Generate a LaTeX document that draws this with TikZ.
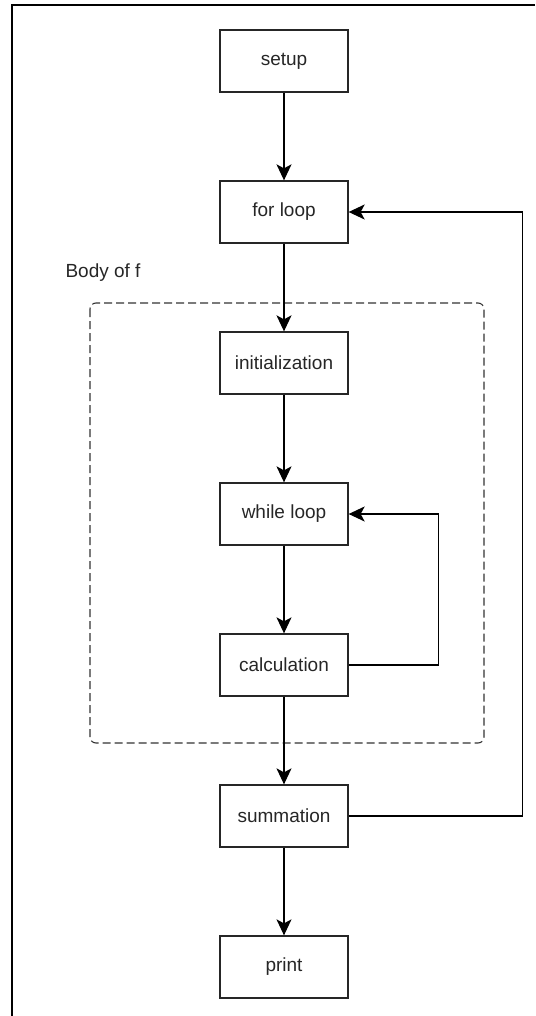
\documentclass[tikz,border=0pt]{standalone}
\usepackage{fontspec}
\setmainfont{Liberation Sans}
\usepackage{tikz}
\usetikzlibrary{positioning}
\usetikzlibrary{arrows.meta}

\begin{document}
\begin{tikzpicture}
            [x=1pt, y=-1pt,
            stepbox/.style={draw=black!85, line width=1.3pt, minimum width=128pt, minimum height=62pt,
                font=\fontsize{19}{22}\selectfont, text=black!85},
            link/.style={line width=1.4pt, draw=black, -{Stealth[length=16pt, width=15pt, inset=4pt]}},
            body/.style={draw=black!80, line width=1.1pt, dash pattern=on 8pt off 4pt, rounded corners=6pt},
            node distance=87.7pt,
            ]
            \useasboundingbox (0,0) rectangle (535,1016);
            % frame
            \draw[line width=1.5pt] (12,1016) -- (12,5) -- (535,5);

            % main chain
            \node[stepbox] (setup) at (284,61) {setup};
            \node[stepbox, below=of setup] (forloop) {for loop};
            \node[stepbox, below=of forloop] (init) {initialization};
            \node[stepbox, below=of init] (whileloop) {while loop};
            \node[stepbox, below=of whileloop] (calc) {calculation};
            \node[stepbox, below=of calc] (summ) {summation};
            \node[stepbox, below=of summ] (print) {print};

            % body of f
            \draw[body] (90,303) rectangle (484,743);
            \node[font=\fontsize{19}{22}\selectfont, text=black!85, anchor=west] (bodylabel) at (62,273) {Body of f};

            \draw[link] (setup) -- (forloop);
            \draw[link] (forloop) -- (init);
            \draw[link] (init) -- (whileloop);
            \draw[link] (whileloop) -- (calc);
            \draw[link] (calc) -- (summ);
            \draw[link] (summ) -- (print);
            \draw[link] (calc.east) -- ++(90,0) |- (whileloop.east);
            \draw[link] (summ.east) -- ++(174,0) |- (forloop.east);
        \end{tikzpicture}
\end{document}
